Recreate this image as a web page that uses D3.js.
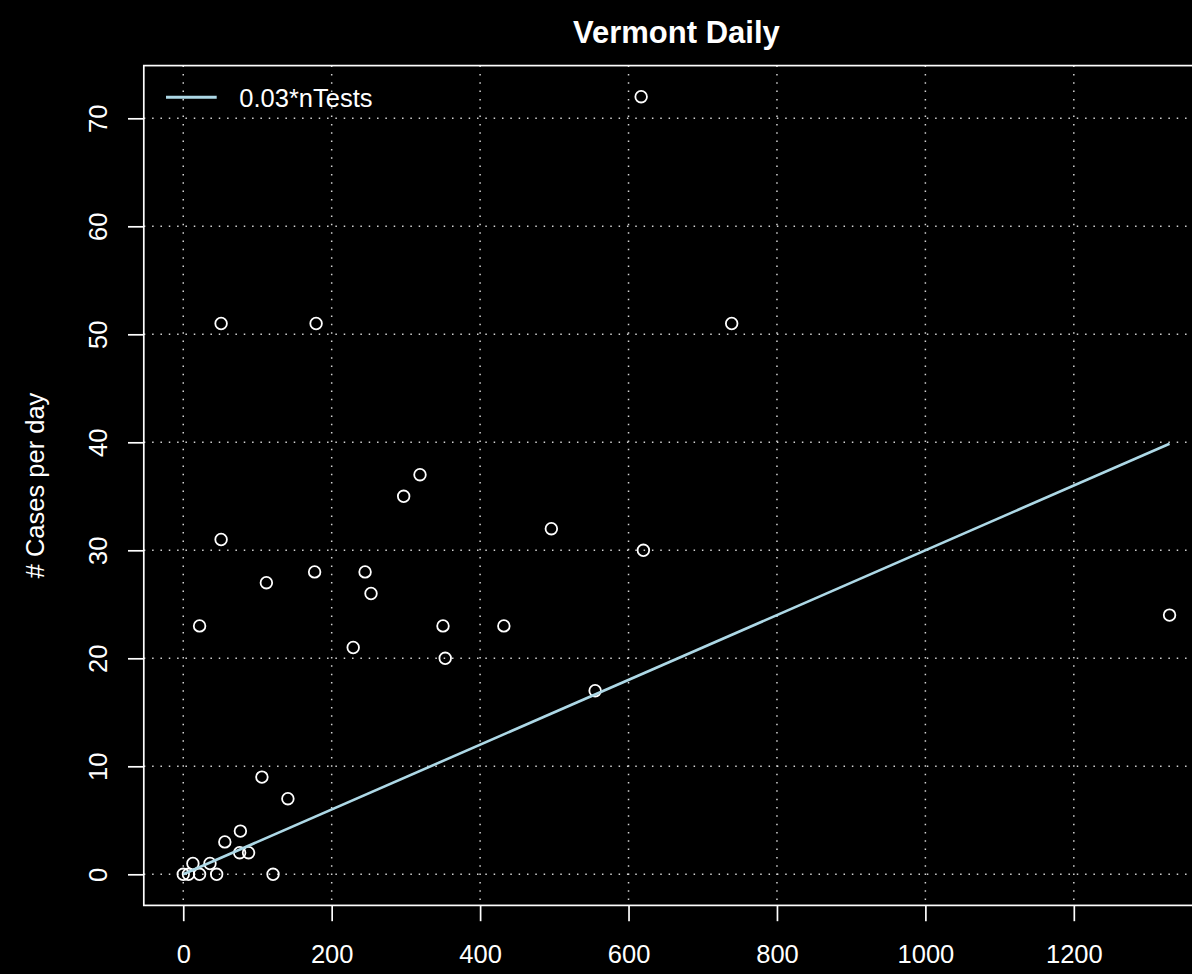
<!DOCTYPE html>
<html>
<head>
<meta charset="utf-8">
<script src="https://cdn.jsdelivr.net/npm/d3@7"></script>
<style>
  html, body { margin: 0; padding: 0; background: #000; }
  svg { display: block; }
  text { font-family: "Liberation Sans", Arial, Helvetica, sans-serif; fill: #fff; }
</style>
</head>
<body>
<svg id="chart" width="1192" height="974"></svg>
<script>
// Daily tests vs. new cases, Vermont
const nTests = [0, 7, 22, 45, 121, 13, 36, 76, 88, 56, 77, 141, 106, 555, 353, 229,
                22, 350, 432, 1329, 253, 112, 177, 245, 620, 51, 496, 297, 319, 51, 179, 739, 617];
const nCases = [0, 0, 0, 0, 0, 1, 1, 2, 2, 3, 4, 7, 9, 17, 20, 21,
                23, 23, 23, 24, 26, 27, 28, 28, 30, 31, 32, 35, 37, 51, 51, 51, 72];
const fitRate = 0.03;
const xTicks = [0, 200, 400, 600, 800, 1000, 1200];
const yTicks = [0, 10, 20, 30, 40, 50, 60, 70];
const titleText = "Vermont Daily";
const yLabel = "# Cases per day";
const legendLabel = "0.03*nTests";

(function () {
  const svg = d3.select("#chart");
  const W = 1192, H = 974;
  svg.append("rect").attr("width", W).attr("height", H).attr("fill", "#000");

  // plot region (right edge runs past the canvas)
  const pL = 143.8, pR = 1209, pT = 65.6, pB = 905.4;

  // axis ranges padded 4% as in base graphics
  const xMin = d3.min(nTests), xMax = d3.max(nTests);
  const yMin = d3.min(nCases), yMax = d3.max(nCases);
  const xPad = (xMax - xMin) * 0.04, yPad = (yMax - yMin) * 0.04;
  const x = d3.scaleLinear().domain([xMin - xPad, xMax + xPad]).range([pL, pR]);
  const y = d3.scaleLinear().domain([yMin - yPad, yMax + yPad]).range([pB, pT]);

  const grid = svg.append("g")
    .attr("stroke", "#d3d3d3")
    .attr("stroke-width", 1.5)
    .attr("stroke-dasharray", "1.5,6.83");
  grid.selectAll("line.v").data(xTicks).join("line")
    .attr("class", "v")
    .attr("x1", d => x(d)).attr("x2", d => x(d))
    .attr("y1", pT).attr("y2", pB);
  grid.selectAll("line.h").data(yTicks).join("line")
    .attr("class", "h")
    .attr("x1", pL).attr("x2", pR)
    .attr("y1", d => y(d)).attr("y2", d => y(d));

  // observations
  const pts = nTests.map((t, i) => ({ t, c: nCases[i] }));
  svg.append("g").selectAll("circle").data(pts).join("circle")
    .attr("cx", d => x(d.t)).attr("cy", d => y(d.c))
    .attr("r", 5.8)
    .attr("fill", "none")
    .attr("stroke", "#fff")
    .attr("stroke-width", 1.8);

  // reference line
  const lineData = [xMin, xMax].map(t => ({ t, c: fitRate * t }));
  svg.append("path")
    .datum(lineData)
    .attr("d", d3.line().x(d => x(d.t)).y(d => y(d.c)))
    .attr("fill", "none")
    .attr("stroke", "#add8e6")
    .attr("stroke-width", 2.6);

  // axes
  const xAxis = svg.append("g")
    .attr("transform", `translate(0,${pB})`)
    .call(d3.axisBottom(x).tickValues(xTicks).tickSize(15.8).tickSizeOuter(0).tickFormat(d3.format("d")));
  xAxis.select(".domain").remove();
  xAxis.selectAll(".tick line").attr("stroke", "#fff").attr("stroke-width", 1.7);
  xAxis.selectAll(".tick text")
    .attr("y", 57.8).attr("dy", 0)
    .attr("font-size", 25.5)
    .attr("fill", "#fff")
    .attr("text-anchor", "middle");

  const yAxis = svg.append("g")
    .attr("transform", `translate(${pL},0)`)
    .call(d3.axisLeft(y).tickValues(yTicks).tickSize(15.8).tickSizeOuter(0).tickFormat(d3.format("d")));
  yAxis.select(".domain").remove();
  yAxis.selectAll(".tick line").attr("stroke", "#fff").attr("stroke-width", 1.7);
  yAxis.selectAll(".tick text")
    .attr("x", 0).attr("dy", 0)
    .attr("transform", "translate(-36.8,0) rotate(-90)")
    .attr("font-size", 25.5)
    .attr("fill", "#fff")
    .attr("text-anchor", "middle");

  // plot frame
  svg.append("rect")
    .attr("x", pL).attr("y", pT)
    .attr("width", pR - pL).attr("height", pB - pT)
    .attr("fill", "none")
    .attr("stroke", "#fff")
    .attr("stroke-width", 1.7);

  // title
  svg.append("text")
    .attr("x", (pL + pR) / 2).attr("y", 43.3)
    .attr("text-anchor", "middle")
    .attr("font-size", 31)
    .attr("font-weight", "bold")
    .text(titleText);

  // y label
  svg.append("text")
    .attr("transform", `translate(43.5,${(pT + pB) / 2}) rotate(-90)`)
    .attr("text-anchor", "middle")
    .attr("font-size", 25.5)
    .text(yLabel);

  // legend
  const lg = svg.append("g");
  lg.append("line")
    .attr("x1", 166).attr("x2", 216.7)
    .attr("y1", 97.3).attr("y2", 97.3)
    .attr("stroke", "#add8e6")
    .attr("stroke-width", 3);
  lg.append("text")
    .attr("x", 239.3).attr("y", 106.7)
    .attr("font-size", 25.5)
    .text(legendLabel);
})();
</script>
</body>
</html>
